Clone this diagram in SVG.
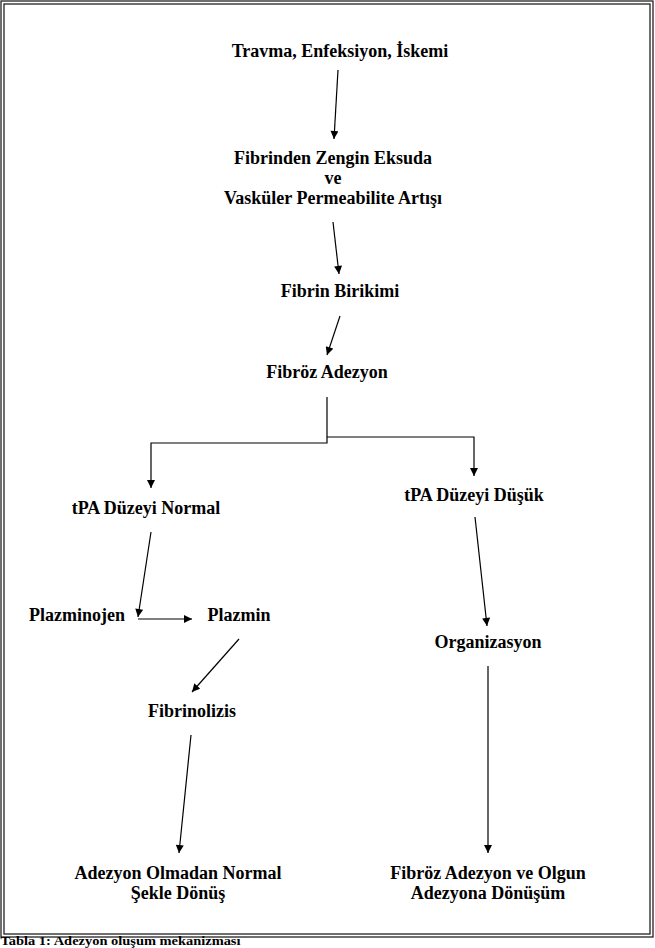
<svg xmlns="http://www.w3.org/2000/svg" width="655" height="948" viewBox="0 0 655 948">
<style>
  .t { font-family: "Liberation Serif", "Times New Roman", serif; font-weight: bold; font-size: 18px; fill: #000; text-anchor: middle; }
  .cap { font-family: "Liberation Serif", "Times New Roman", serif; font-weight: bold; font-size: 11.5px; fill: #000; }
  .c { stroke: #000; stroke-width: 1.2; fill: none; }
  .frame { fill: none; stroke: #222; stroke-width: 1.3; }
</style>
<defs>
  <marker id="ah" viewBox="0 0 10 10" refX="10" refY="5" markerWidth="9" markerHeight="8" markerUnits="userSpaceOnUse" orient="auto">
    <path d="M0,0 L10,5 L0,10 Z" fill="#000"/>
  </marker>
</defs>
<rect width="655" height="948" fill="#fff"/>
<g id="frame">
  <rect class="frame" x="1" y="1" width="652" height="936"/>
  <rect class="frame" x="4" y="4" width="646" height="930"/>
</g>
<g id="n1"><text class="t" x="340" y="57">Travma, Enfeksiyon, İskemi</text></g>
<g id="n2">
  <text class="t" x="333" y="164">Fibrinden Zengin Eksuda</text>
  <text class="t" x="333" y="184">ve</text>
  <text class="t" x="333" y="204">Vasküler Permeabilite Artışı</text>
</g>
<g id="n3"><text class="t" x="340" y="297">Fibrin Birikimi</text></g>
<g id="n4"><text class="t" x="327" y="378">Fibröz Adezyon</text></g>
<g id="n5"><text class="t" x="146" y="514">tPA Düzeyi Normal</text></g>
<g id="n6"><text class="t" x="474" y="501">tPA Düzeyi Düşük</text></g>
<g id="n7"><text class="t" x="77" y="621">Plazminojen</text></g>
<g id="n8"><text class="t" x="239" y="621">Plazmin</text></g>
<g id="n9"><text class="t" x="192" y="717">Fibrinolizis</text></g>
<g id="n10"><text class="t" x="488" y="648">Organizasyon</text></g>
<g id="n11">
  <text class="t" x="178" y="879">Adezyon Olmadan Normal</text>
  <text class="t" x="178" y="899">Şekle Dönüş</text>
</g>
<g id="n12">
  <text class="t" x="488" y="879">Fibröz Adezyon ve Olgun</text>
  <text class="t" x="488" y="899">Adezyona Dönüşüm</text>
</g>
<g id="connectors">
  <line class="c" x1="338" y1="70" x2="334" y2="139" marker-end="url(#ah)"/>
  <line class="c" x1="333" y1="222" x2="339" y2="274" marker-end="url(#ah)"/>
  <line class="c" x1="340" y1="316" x2="327" y2="355" marker-end="url(#ah)"/>
  <polyline class="c" points="327,397 327,443 151,443 151,488" marker-end="url(#ah)"/>
  <polyline class="c" points="327,437 474,437 474,476" marker-end="url(#ah)"/>
  <line class="c" x1="151" y1="532" x2="138" y2="617" marker-end="url(#ah)"/>
  <line class="c" x1="138" y1="619" x2="192" y2="619" marker-end="url(#ah)"/>
  <line class="c" x1="239" y1="639" x2="192" y2="692" marker-end="url(#ah)"/>
  <line class="c" x1="191" y1="735" x2="179" y2="853" marker-end="url(#ah)"/>
  <line class="c" x1="475" y1="517" x2="487" y2="626" marker-end="url(#ah)"/>
  <line class="c" x1="488" y1="666" x2="488" y2="853" marker-end="url(#ah)"/>
</g>
<text class="cap" x="0.5" y="945.3" textLength="240" lengthAdjust="spacingAndGlyphs">Tabla 1: Adezyon oluşum mekanizması</text>
</svg>
